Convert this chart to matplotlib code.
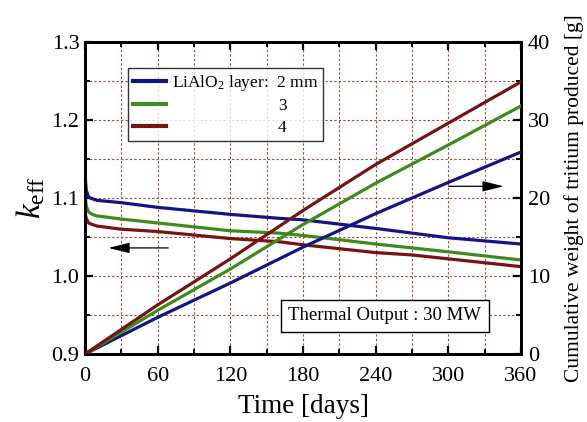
import matplotlib
matplotlib.use("Agg")
import matplotlib.pyplot as plt
from matplotlib.ticker import MultipleLocator
from matplotlib.lines import Line2D

plt.rcParams['font.family'] = ['Liberation Serif', 'DejaVu Serif']
plt.rcParams['mathtext.fontset'] = 'custom'
plt.rcParams['mathtext.rm'] = 'Liberation Serif'
plt.rcParams['mathtext.it'] = 'Liberation Serif:italic'

# ---- data ----
layers = ['2 mm', '3', '4']
colors = ['#141485', '#3f8a1c', '#761414']

keff_days_2 = [0, 1, 3, 6, 10, 30, 60, 120, 160, 180, 240, 270, 300, 360]
keff_2 = [1.132, 1.110, 1.101, 1.099, 1.097, 1.094, 1.088, 1.079, 1.074, 1.072, 1.061, 1.055, 1.049, 1.041]
keff_days_3 = [0, 1, 3, 6, 10, 30, 60, 120, 160, 180, 240, 270, 300, 360]
keff_3 = [1.106, 1.090, 1.082, 1.079, 1.077, 1.073, 1.068, 1.058, 1.055, 1.052, 1.041, 1.036, 1.031, 1.0205]
keff_days_4 = [0, 1, 3, 6, 10, 30, 60, 120, 160, 180, 240, 270, 300, 360]
keff_4 = [1.082, 1.074, 1.068, 1.066, 1.064, 1.060, 1.057, 1.048, 1.044, 1.040, 1.030, 1.027, 1.022, 1.012]

trit_days = [0, 60, 120, 180, 240, 300, 360]
trit_2 = [0, 4.7, 9.1, 13.7, 18.0, 22.0, 25.9]
trit_3 = [0, 5.6, 10.9, 16.6, 21.9, 26.8, 31.8]
trit_4 = [0, 6.3, 12.2, 18.4, 24.3, 29.6, 34.9]

keff_days = [keff_days_2, keff_days_3, keff_days_4]
keff_vals = [keff_2, keff_3, keff_4]
trit_vals = [trit_2, trit_3, trit_4]

fig = plt.figure(figsize=(5.87, 4.22), dpi=100)
ax = fig.add_axes([0.1448, 0.1611, 0.8876 - 0.1448, 0.9005 - 0.1611])
ax2 = ax.twinx()

grid_color = '#a0453a'
for xx in range(30, 360, 30):
    ax.axvline(xx, color=grid_color, ls=(0, (2, 2)), lw=0.8, zorder=0)
for yy in [0.95, 1.0, 1.05, 1.1, 1.15, 1.2, 1.25]:
    ax.axhline(yy, color=grid_color, ls=(0, (2, 2)), lw=0.8, zorder=0)

lw = 2.3
for d, v, c in zip(keff_days, keff_vals, colors):
    ax.plot(d, v, color=c, lw=lw, zorder=3)
for v, c in zip(trit_vals, colors):
    ax2.plot(trit_days, v, color=c, lw=lw, zorder=3)

ax.set_xlim(0, 360)
ax.set_ylim(0.9, 1.3)
ax2.set_ylim(0, 40)

ax.xaxis.set_major_locator(MultipleLocator(60))
ax.xaxis.set_minor_locator(MultipleLocator(30))
ax.yaxis.set_major_locator(MultipleLocator(0.1))
ax.yaxis.set_minor_locator(MultipleLocator(0.05))
ax2.yaxis.set_major_locator(MultipleLocator(10))
ax2.yaxis.set_minor_locator(MultipleLocator(5))
ax.yaxis.set_major_formatter(plt.FuncFormatter(lambda v, p: f"{v:.1f}"))

ax.tick_params(axis='x', which='both', direction='in', top=True, bottom=True)
ax.tick_params(axis='y', which='both', direction='in', left=True, right=False)
ax2.tick_params(axis='y', which='both', direction='in')
for a in (ax, ax2):
    a.tick_params(which='major', length=6, width=1.6, labelsize=16, pad=4)
    a.tick_params(which='minor', length=3.5, width=1.4)
    for s in a.spines.values():
        s.set_linewidth(2.0)
ax2.tick_params(which='major', pad=5)
ax.tick_params(axis='x', which='major', pad=9)

ax.set_xlabel('Time [days]', fontsize=19.5, labelpad=6)
ax.set_ylabel(r'$k_{\mathrm{eff}}$', fontsize=24, labelpad=3)
ax2.set_ylabel('Cumulative weight of tritium produced [g]', fontsize=15.5, labelpad=10)

# arrows
ax.annotate('', xy=(17, 1.036), xytext=(71, 1.036),
            arrowprops=dict(arrowstyle='-|>,head_length=1.3,head_width=0.32', color='black', lw=0.9))
ax2.annotate('', xy=(348, 21.5), xytext=(298, 21.5),
             arrowprops=dict(arrowstyle='-|>,head_length=1.3,head_width=0.32', color='black', lw=0.9))

# legend
handles = [Line2D([], [], color=c, lw=3) for c in colors]
labels = ['LiAlO$_2$ layer:  2 mm', '3', '4']
leg = ax.legend(handles, labels, loc='upper left', bbox_to_anchor=(0.099, 0.917),
                fontsize=12.5, frameon=True, fancybox=False, edgecolor='black',
                handlelength=1.9, handletextpad=0.3, borderpad=0.3, labelspacing=0.3,
                borderaxespad=0)
leg.get_frame().set_linewidth(1.0)
leg.set_zorder(5)

# Thermal output box
ax.text(0.687, 0.123, 'Thermal Output : 30 MW', transform=ax.transAxes, fontsize=13.5,
        ha='center', va='center', zorder=6,
        bbox=dict(boxstyle='square,pad=0.4', fc='white', ec='black', lw=1.0))

fig.canvas.draw()
renderer = fig.canvas.get_renderer()
texts = leg.get_texts()
t0 = texts[0]
bb0 = t0.get_window_extent(renderer)
w2, _, _ = renderer.get_text_width_height_descent('2 mm', t0.get_fontproperties(), ismath=False)
x_two = bb0.x1 - w2
for t in texts[1:]:
    bb = t.get_window_extent(renderer)
    t.set_x(x_two - bb.x0)

fig.savefig('out.png', dpi=100)
